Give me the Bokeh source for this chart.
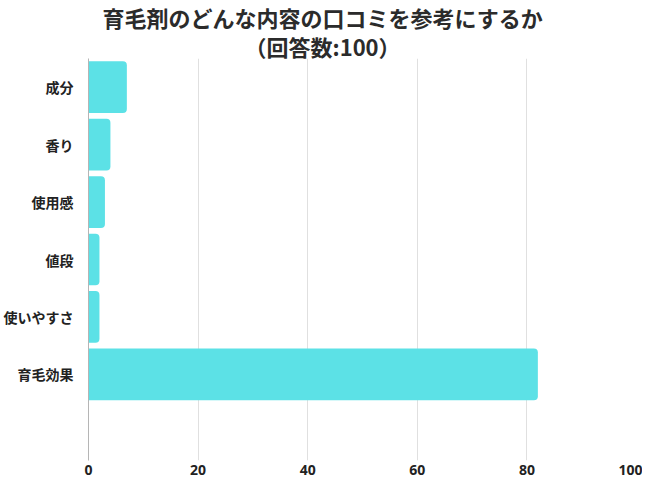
from bokeh.plotting import figure
from bokeh.models import Title, FixedTicker, Range1d, FactorRange, ColumnDataSource
from bokeh.embed import file_html
from bokeh.resources import INLINE

title_line1 = "育毛剤のどんな内容の口コミを参考にするか"
title_line2 = "（回答数:100）"
categories = ["成分", "香り", "使用感", "値段", "使いやすさ", "育毛効果"]
values = [7, 4, 3, 2, 2, 82]
x_ticks = [0, 20, 40, 60, 80, 100]

# bottom blank slot, then categories from bottom to top
factors = [" "] + categories[::-1]

src = ColumnDataSource(dict(cat=categories, val=values))

p = figure(width=642, height=483, output_backend="svg", toolbar_location=None,
           y_range=FactorRange(*factors), x_range=Range1d(0, 100),
           min_border_left=86, min_border_right=6, min_border_top=58, min_border_bottom=23)

p.hbar(y="cat", right="val", left=0, height=0.9, source=src,
       fill_color="#5ce1e6", line_color=None, border_radius=(0, 4, 4, 0))

p.outline_line_color = None
p.background_fill_color = "white"
p.border_fill_color = "white"

p.ygrid.grid_line_color = None
p.xgrid.grid_line_color = "#e0e0e0"
p.xgrid.grid_line_width = 1

p.xaxis.ticker = FixedTicker(ticks=x_ticks)
p.xaxis.axis_line_color = None
p.xaxis.major_tick_line_color = None
p.xaxis.minor_tick_line_color = None
p.xaxis.major_tick_out = 0
p.xaxis.major_tick_in = 0
p.xaxis.minor_tick_out = 0
p.xaxis.major_label_text_font = "Open Sans"
p.xaxis.major_label_text_font_style = "bold"
p.xaxis.major_label_text_font_size = "14px"
p.xaxis.major_label_text_color = "#222222"
p.xaxis.major_label_standoff = 4

p.yaxis.axis_line_color = "#b5b5b5"
p.yaxis.major_tick_line_color = None
p.yaxis.minor_tick_line_color = None
p.yaxis.major_tick_out = 0
p.yaxis.major_tick_in = 0
p.yaxis.minor_tick_out = 0
p.yaxis.major_label_text_font = "Noto Sans CJK JP"
p.yaxis.major_label_text_font_style = "bold"
p.yaxis.major_label_text_font_size = "14px"
p.yaxis.major_label_text_color = "#222222"
p.yaxis.major_label_standoff = 15

t2 = Title(text=title_line2, align="left", offset=156, text_font="Noto Sans CJK JP",
           text_font_style="bold", text_font_size="22px", text_color="#2b2b2b", standoff=-6)
t1 = Title(text=title_line1, align="left", offset=14, text_font="Noto Sans CJK JP",
           text_font_style="bold", text_font_size="22px", text_color="#2b2b2b", standoff=-4)
p.add_layout(t2, "above")
p.add_layout(t1, "above")

open("out.html", "w").write(file_html(p, INLINE))
